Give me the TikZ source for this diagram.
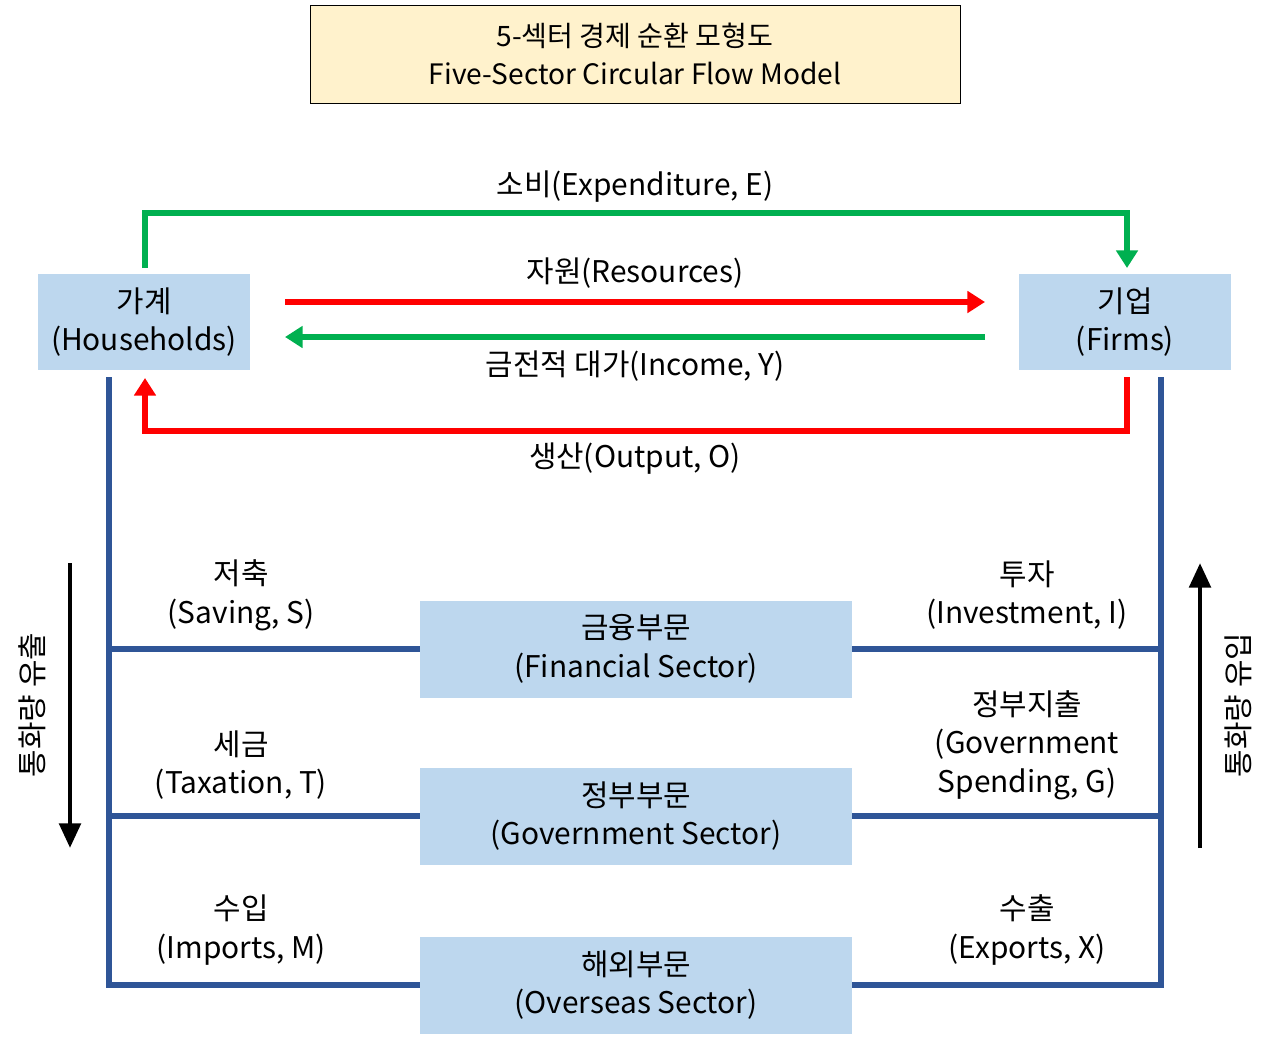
\documentclass[tikz,border=0pt]{standalone}
\usepackage{fontspec}
\setmainfont{Noto Sans CJK KR}
\usetikzlibrary{arrows.meta}
\definecolor{boxblue}{HTML}{BDD7EE}
\definecolor{titlefill}{HTML}{FFF2CC}
\definecolor{linkblue}{HTML}{2F5597}
\definecolor{flowgreen}{HTML}{00B050}
\definecolor{flowred}{HTML}{FF0000}
\tikzset{
	sector/.style = {
		fill = boxblue,
		minimum width = 8.64cm,
		minimum height = 1.94cm,
		align = center,
		font = \fontsize{17}{22}\selectfont,
		inner sep = 0pt,
	},
	agent/.style = {
		sector,
		minimum width = 4.24cm,
	},
	flow/.style = {
		line width = 3.4pt,
		-{Triangle[length = 10pt, width = 12pt]},
	},
	link/.style = {
		draw = linkblue,
		line width = 3.2pt,
	},
	flow label/.style = {
		font = \fontsize{17}{22}\selectfont,
		align = center,
		inner sep = 0pt,
	},
	leak/.style = {
		line width = 2.8pt,
		-{Triangle[length = 14pt, width = 12pt]},
	},
}
\begin{document}
\begin{tikzpicture}[x = 0.02cm, y = -0.02cm]
		\useasboundingbox (0, 0) rectangle (1280, 1048);
		% title
		\node[draw, fill = titlefill, minimum width = 13cm, minimum height = 1.96cm, align = center,
			font = \fontsize{16}{22}\selectfont] (title) at (635, 54) {5-섹터 경제 순환 모형도\\Five-Sector Circular Flow Model};
		% agents
		\node[agent] (households) at (144, 322) {가계\\(Households)};
		\node[agent] (firms) at (1125, 322) {기업\\(Firms)};
		% sectors
		\node[sector] (financial) at (636, 649) {금융부문\\(Financial Sector)};
		\node[sector] (government) at (636, 816) {정부부문\\(Government Sector)};
		\node[sector] (overseas) at (636, 985) {해외부문\\(Overseas Sector)};
		% upper flows
		\coordinate (hh top) at (145, 268);
		\coordinate (fm top) at (1127, 268);
		\coordinate (hh bot) at (145, 378);
		\coordinate (fm bot) at (1127, 377);
		\draw[flow, draw = flowgreen, color = flowgreen] (hh top) |- (635, 213) -| (fm top);
		\coordinate (res a) at (285, 302);
		\coordinate (res b) at (985, 302);
		\coordinate (inc a) at (985, 337);
		\coordinate (inc b) at (285, 337);
		\draw[flow, draw = flowred, color = flowred] (res a) -- (res b);
		\draw[flow, draw = flowgreen, color = flowgreen] (inc a) -- (inc b);
		\draw[flow, draw = flowred, color = flowred] (fm bot) |- (635, 431) -| (hh bot);
		\node[flow label] (expenditure) at (635, 187) {소비(Expenditure, E)};
		\node[flow label] (resources) at (635, 273) {자원(Resources)};
		\node[flow label] (income) at (635, 366) {금전적 대가(Income, Y)};
		\node[flow label] (output) at (635, 459) {생산(Output, O)};
		% links to sectors
		\coordinate (left top) at (109, 377);
		\coordinate (right top) at (1161, 377);
		\draw[link] (left top) |- (overseas.west);
		\draw[link] (right top) |- (overseas.east);
		\draw[link] (109, 649) -- (financial.west);
		\draw[link] (109, 816) -- (government.west);
		\draw[link] (1161, 649) -- (financial.east);
		\draw[link] (1161, 816) -- (government.east);
		\node[flow label] (saving) at (241, 595) {저축\\(Saving, S)};
		\node[flow label] (taxation) at (241, 765) {세금\\(Taxation, T)};
		\node[flow label] (imports) at (241, 930) {수입\\(Imports, M)};
		\node[flow label] (investment) at (1027, 595) {투자\\(Investment, I)};
		\node[flow label] (spending) at (1027, 745) {정부지출\\(Government\\Spending, G)};
		\node[flow label] (exports) at (1027, 930) {수출\\(Exports, X)};
		% money leaks and injections
		\coordinate (out a) at (70, 563);
		\coordinate (out b) at (70, 848);
		\coordinate (in a) at (1200, 848);
		\coordinate (in b) at (1200, 563);
		\draw[leak] (out a) -- (out b);
		\draw[leak] (in a) -- (in b);
		\node[flow label, rotate = 90] (leakage) at (32, 705) {통화량 유출};
		\node[flow label, rotate = 90] (injection) at (1238, 705) {통화량 유입};
	\end{tikzpicture}
\end{document}
